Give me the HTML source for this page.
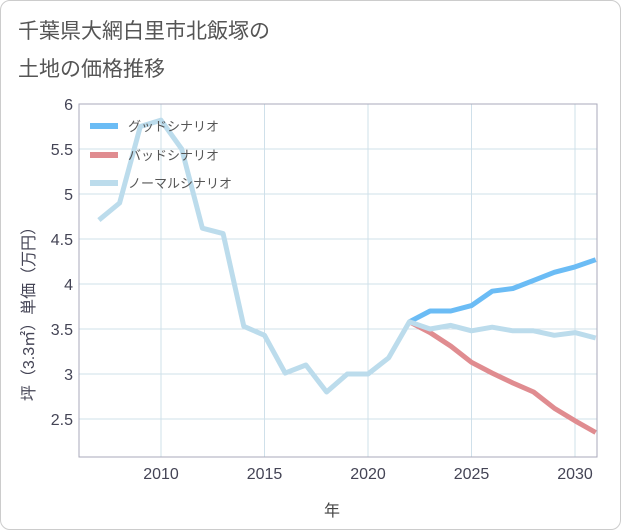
<!DOCTYPE html>
<html><head><meta charset="utf-8"><style>
body{margin:0;background:#fff;font-family:"Liberation Sans","Noto Sans CJK JP",sans-serif}
.card{position:absolute;left:0;top:0;width:619px;height:528px;border:1px solid #ccc;border-radius:10px;background:#fff}
</style></head><body>
<div class="card"></div>
<svg width="621" height="530" style="position:absolute;left:0;top:0">
<text x="18" y="38" font-size="21" fill="#555">千葉県大網白里市北飯塚の</text>
<text x="18" y="76" font-size="21" fill="#555">土地の価格推移</text>
<g id="grid"></g><g id="lines"></g>
<rect x="79" y="104" width="518" height="353" fill="none" stroke="#aab"/>
<text x="332" y="516" font-size="16" fill="#444" text-anchor="middle">年</text>
<text transform="translate(34,310) rotate(-90)" font-size="16" fill="#445" text-anchor="middle">坪（3.3㎡）単価（万円）</text>
<g>
<line x1="90" y1="126" x2="118" y2="126" stroke="#6bbcf5" stroke-width="6"/>
<text x="128" y="131" font-size="13" fill="#555">グッドシナリオ</text>
<line x1="90" y1="155" x2="118" y2="155" stroke="#e08c90" stroke-width="6"/>
<text x="128" y="160" font-size="13" fill="#555">バッドシナリオ</text>
<line x1="90" y1="183" x2="118" y2="183" stroke="#bcdcec" stroke-width="6"/>
<text x="128" y="188" font-size="13" fill="#555">ノーマルシナリオ</text>
</g>
</svg>
<script>
const yearsNormal=[2007,2008,2009,2010,2011,2012,2013,2014,2015,2016,2017,2018,2019,2020,2021,2022,2023,2024,2025,2026,2027,2028,2029,2030,2031];
const normalValues=[4.71,4.9,5.75,5.82,5.5,4.62,4.56,3.53,3.43,3.01,3.1,2.8,3.0,3.0,3.18,3.58,3.5,3.54,3.48,3.52,3.48,3.48,3.43,3.46,3.40];
const yearsForecast=[2022,2023,2024,2025,2026,2027,2028,2029,2030,2031];
const goodValues=[3.58,3.7,3.7,3.76,3.92,3.95,4.04,4.13,4.19,4.27];
const badValues=[3.58,3.46,3.31,3.13,3.01,2.9,2.8,2.62,2.48,2.35];
const xTicks=[2010,2015,2020,2025,2030];
const yTicks=[2.5,3,3.5,4,4.5,5,5.5,6];
const X=y=>161+(y-2010)*20.7, Y=v=>104+(6-v)*90;
const NS="http://www.w3.org/2000/svg";
const grid=document.getElementById('grid'), lines=document.getElementById('lines');
function mk(tag,attrs,parent){const e=document.createElementNS(NS,tag);for(const k in attrs)e.setAttribute(k,attrs[k]);parent.appendChild(e);return e;}
xTicks.forEach(t=>{
 const l=mk('line',{x1:X(t),x2:X(t),y1:104,y2:457,stroke:'#cfe0ea'},grid);
 
 
 const tx=mk('text',{x:X(t),y:479,'font-size':16,fill:'#445','text-anchor':'middle'},grid);tx.textContent=t;
 
 
});
yTicks.forEach(t=>{
 const l=mk('line',{x1:79,x2:597,y1:Y(t),y2:Y(t),stroke:'#cfe0ea'},grid);
 
 
 const tx=mk('text',{x:73,y:Y(t)+6,'font-size':16,fill:'#445','text-anchor':'end'},grid);tx.textContent=t;
 
 
});
function series(xs,vs,color,name){
 const p=mk('polyline',{points:xs.map((x,i)=>X(x)+','+Y(vs[i])).join(' '),fill:'none',stroke:color,'stroke-width':5,'stroke-linejoin':'round'},lines);
 
 
}
series(yearsForecast,goodValues,'#6bbcf5','good-scenario-line');
series(yearsForecast,badValues,'#e08c90','bad-scenario-line');
series(yearsNormal,normalValues,'#bcdcec','normal-scenario-line');
</script>
</body></html>
